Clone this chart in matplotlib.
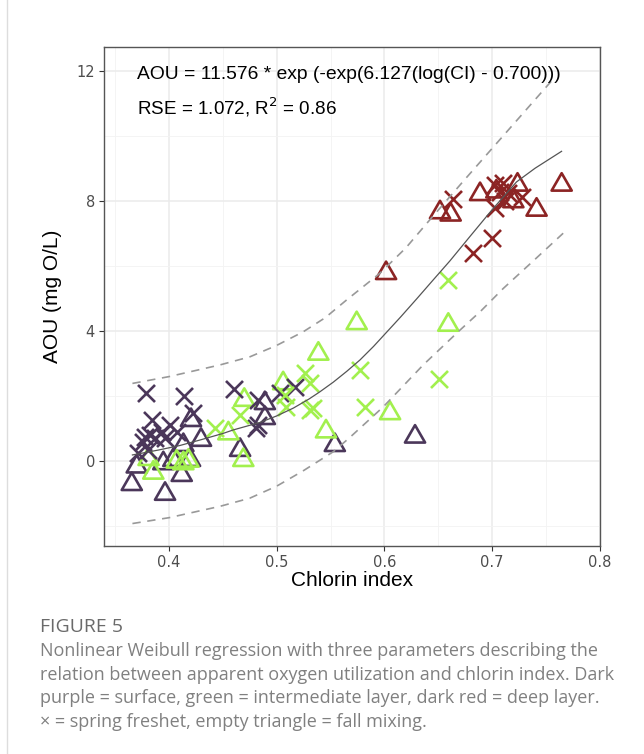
import numpy as np
import matplotlib.pyplot as plt
from matplotlib.path import Path

# surface layer (dark purple)
surf_x_ci = [0.3784, 0.4139, 0.4226, 0.3845, 0.4009, 0.3777, 0.3824, 0.3870, 0.3759, 0.3932,
             0.4071, 0.3963, 0.3715, 0.3808, 0.4606, 0.4830, 0.4830, 0.4810, 0.5170, 0.5030]
surf_x_aou = [2.08, 1.99, 1.46, 1.25, 1.10, 0.74, 0.79, 0.70, 0.59, 0.89,
              0.89, 0.69, 0.23, 0.33, 2.20, 1.87, 1.10, 1.00, 2.28, 2.08]
surf_t_ci = [0.4204, 0.4297, 0.4133, 0.3700, 0.3947, 0.4040, 0.4195, 0.4118, 0.3654, 0.3963,
             0.4660, 0.4890, 0.4890, 0.5540, 0.6285]
surf_t_aou = [1.25, 0.64, 0.48, -0.18, -0.08, 0.02, 0.02, -0.44, -0.72, -1.02,
              0.33, 1.77, 1.31, 0.48, 0.74]

# intermediate layer (green)
mid_x_ci = [0.6594, 0.5774, 0.6511, 0.5820, 0.5260, 0.5310, 0.5310, 0.5340, 0.5077, 0.5090,
            0.4427, 0.4659]
mid_x_aou = [5.56, 2.79, 2.51, 1.66, 2.69, 2.38, 1.56, 1.61, 2.02, 1.66,
             1.02, 1.41]
mid_t_ci = [0.5743, 0.6594, 0.5387, 0.6053, 0.5458, 0.5060, 0.4699, 0.4551, 0.4690, 0.3854,
            0.3810, 0.4071, 0.4133, 0.4180]
mid_t_aou = [4.23, 4.18, 3.29, 1.46, 0.90, 2.38, 1.87, 0.84, 0.02, -0.37,
             0.05, -0.03, -0.08, 0.00]

# deep layer (dark red)
deep_x_ci = [0.6641, 0.6826, 0.6996, 0.7027, 0.7027, 0.7100, 0.7070, 0.7150, 0.7275, 0.7120]
deep_x_aou = [8.05, 6.39, 6.85, 7.77, 8.49, 8.54, 8.28, 8.23, 8.13, 7.98]
deep_t_ci = [0.6016, 0.6517, 0.6616, 0.6889, 0.7040, 0.7198, 0.7237, 0.7414, 0.7647]
deep_t_aou = [5.77, 7.64, 7.57, 8.20, 8.28, 7.98, 8.49, 7.72, 8.49]

# fitted curve and prediction band
fit_ci = [0.366, 0.390, 0.410, 0.4288, 0.450, 0.4597, 0.4845, 0.500, 0.5154, 0.530,
          0.540, 0.5526, 0.565, 0.5773, 0.590, 0.600, 0.615, 0.630, 0.645, 0.6609,
          0.680, 0.700, 0.7228, 0.740, 0.7646]
fit_aou = [0.18, 0.33, 0.47, 0.64, 0.84, 0.95, 1.18, 1.38, 1.62, 1.90,
           2.12, 2.42, 2.75, 3.10, 3.52, 3.88, 4.42, 4.98, 5.55, 6.15,
           6.92, 7.72, 8.58, 9.00, 9.52]
upr_ci = [0.366, 0.400, 0.4474, 0.4752, 0.500, 0.5247, 0.545, 0.565, 0.5959, 0.620,
          0.6393, 0.6733, 0.7073, 0.757]
upr_aou = [2.38, 2.59, 2.95, 3.20, 3.55, 3.97, 4.40, 4.95, 5.77, 6.55,
           7.30, 8.60, 9.88, 11.75]
lwr_ci = [0.366, 0.400, 0.4474, 0.475, 0.500, 0.525, 0.5526, 0.568, 0.599, 0.6361,
          0.6686, 0.690, 0.7104, 0.740, 0.7661]
lwr_aou = [-1.93, -1.75, -1.40, -1.15, -0.78, -0.30, 0.28, 0.72, 1.66, 2.95,
           3.97, 4.62, 5.30, 6.20, 7.00]

purple = "#4b375a"
green = "#a2f04e"
red = "#8c2424"

tri = Path([(0, 1), (-0.866, -0.5), (0.866, -0.5), (0, 1)],
           [Path.MOVETO, Path.LINETO, Path.LINETO, Path.CLOSEPOLY])

fig = plt.figure(figsize=(6.44, 7.54), dpi=100)
ax = fig.add_axes([0.1615, 0.2759, 0.770, 0.6618])

ax.set_xlim(0.3396, 0.8002)
ax.set_ylim(-2.62, 12.73)

ax.set_xticks([0.4, 0.5, 0.6, 0.7, 0.8])
ax.set_xticks([0.35, 0.45, 0.55, 0.65, 0.75], minor=True)
ax.set_yticks([0, 4, 8, 12])
ax.set_yticks([-2, 2, 6, 10], minor=True)
ax.set_xticklabels(["0.4", "0.5", "0.6", "0.7", "0.8"])
ax.grid(which="major", color="#ebebeb", lw=1.1)
ax.grid(which="minor", color="#f3f3f3", lw=0.6)
ax.set_axisbelow(True)
ax.tick_params(which="major", length=3.5, width=0.8, color="#333333",
               labelsize=10.5, labelcolor="#4d4d4d", pad=3)
ax.tick_params(which="minor", length=0)
for s in ax.spines.values():
    s.set_color("#555555")
    s.set_linewidth(1.0)

ax.plot(upr_ci, upr_aou, color="#999999", lw=1.2, dashes=(5, 4))
ax.plot(lwr_ci, lwr_aou, color="#999999", lw=1.2, dashes=(5, 4))
ax.plot(fit_ci, fit_aou, color="#555555", lw=0.9)

for xs, ys, c in [(surf_t_ci, surf_t_aou, purple), (mid_t_ci, mid_t_aou, green),
                  (deep_t_ci, deep_t_aou, red)]:
    ax.scatter(xs, ys, marker=tri, s=280, facecolors="none", edgecolors=c, linewidths=1.9)
for xs, ys, c in [(surf_x_ci, surf_x_aou, purple), (mid_x_ci, mid_x_aou, green),
                  (deep_x_ci, deep_x_aou, red)]:
    ax.scatter(xs, ys, marker="x", s=150, color=c, linewidths=1.9)

ax.text(0.370, 11.88, "AOU = 11.576 * exp (-exp(6.127(log(CI) - 0.700)))",
        fontsize=13.9, family="Liberation Sans", va="center")
ax.text(0.370, 10.88, r"RSE = 1.072, R$^2$ = 0.86",
        fontsize=13.6, family="Liberation Sans", va="center")

ax.set_xlabel("Chlorin index", fontsize=15, family="Liberation Sans", labelpad=1)
ax.set_ylabel("AOU (mg O/L)", fontsize=15, family="Liberation Sans", labelpad=10)

fig.add_artist(plt.Line2D([7 / 644, 7 / 644], [0, 1], color="#dddddd", lw=1))

fig.text(40 / 644, 1 - 627 / 754, "FIGURE 5", fontsize=14, color="#6a6a6a",
         family="Open Sans", weight="normal", va="center")
caption = ["Nonlinear Weibull regression with three parameters describing the",
           "relation between apparent oxygen utilization and chlorin index. Dark",
           "purple = surface, green = intermediate layer, dark red = deep layer.",
           "\u00d7 = spring freshet, empty triangle = fall mixing."]
for i, line in enumerate(caption):
    fig.text(40 / 644, 1 - (651 + 23.7 * i) / 754, line, fontsize=13.0,
             color="#808080", family="Open Sans", va="center")

fig.savefig("out.png", dpi=100)
